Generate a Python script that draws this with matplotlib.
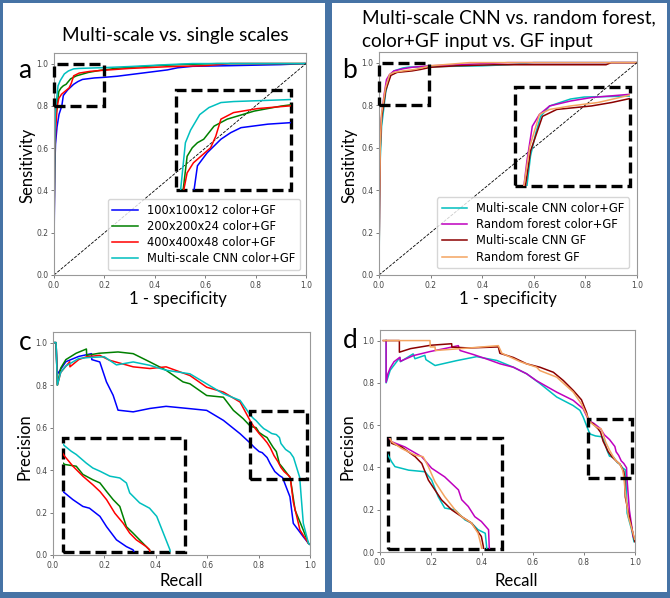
import matplotlib
matplotlib.use("Agg")
import matplotlib.pyplot as plt
from matplotlib.patches import Rectangle

W, H = 670, 598

# ---- panel a : ROC, multi-scale vs single scales
a_labels = ['100x100x12 color+GF', '200x200x24 color+GF',
            '400x400x48 color+GF', 'Multi-scale CNN color+GF']
a_colors = ['b', 'g', 'r', 'c']
a_fpr = [
    [0, 0.001, 0.003, 0.006, 0.012, 0.02, 0.031, 0.037, 0.054, 0.078, 0.095, 0.113, 0.16, 0.2, 0.25, 0.35, 0.45, 0.49, 0.55, 0.7, 0.9, 1.0],
    [0, 0.001, 0.003, 0.006, 0.012, 0.019, 0.028, 0.037, 0.048, 0.066, 0.089, 0.136, 0.183, 0.25, 0.4, 0.5, 0.65, 1.0],
    [0, 0.001, 0.003, 0.007, 0.013, 0.019, 0.03, 0.043, 0.06, 0.069, 0.078, 0.1, 0.142, 0.194, 0.3, 0.45, 0.6, 0.7, 1.0],
    [0, 0.001, 0.003, 0.005, 0.0076, 0.016, 0.025, 0.041, 0.057, 0.078, 0.1, 0.15, 0.2, 0.3, 0.45, 0.55, 1.0],
]
a_tpr = [
    [0, 0.25, 0.5, 0.62, 0.7, 0.76, 0.80, 0.849, 0.875, 0.902, 0.915, 0.925, 0.932, 0.935, 0.94, 0.955, 0.97, 0.98, 0.987, 0.99, 0.995, 1.0],
    [0, 0.35, 0.62, 0.74, 0.80, 0.868, 0.885, 0.895, 0.902, 0.928, 0.942, 0.958, 0.968, 0.978, 0.99, 0.995, 1.0, 1.0],
    [0, 0.3, 0.55, 0.7, 0.80, 0.835, 0.855, 0.868, 0.885, 0.908, 0.942, 0.955, 0.963, 0.968, 0.977, 0.985, 0.99, 1.0, 1.0],
    [0, 0.3, 0.6, 0.75, 0.80, 0.895, 0.92, 0.951, 0.965, 0.975, 0.977, 0.979, 0.981, 0.986, 0.995, 1.0, 1.0],
]

# ---- panel b : ROC, CNN vs random forest
b_labels = ['Multi-scale CNN color+GF', 'Random forest color+GF',
            'Multi-scale CNN GF', 'Random forest GF']
b_colors = ['c', 'm', 'darkred', 'sandybrown']
b_fpr = [
    [0, 0.002, 0.005, 0.01, 0.02, 0.026, 0.035, 0.043, 0.058, 0.093, 0.116, 0.197, 0.3, 0.4, 0.5, 0.6, 1.0],
    [0, 0.002, 0.005, 0.01, 0.02, 0.029, 0.041, 0.058, 0.093, 0.128, 0.197, 0.3, 0.4, 0.5, 1.0],
    [0, 0.002, 0.005, 0.01, 0.02, 0.026, 0.046, 0.07, 0.128, 0.162, 0.2, 0.3, 0.45, 0.88, 0.9, 1.0],
    [0, 0.002, 0.005, 0.01, 0.02, 0.025, 0.041, 0.058, 0.093, 0.139, 0.186, 0.197, 0.3, 0.35, 1.0],
]
b_tpr = [
    [0, 0.3, 0.55, 0.7, 0.80, 0.86, 0.907, 0.94, 0.961, 0.975, 0.979, 0.981, 0.983, 0.985, 0.99, 1.0, 1.0],
    [0, 0.4, 0.65, 0.75, 0.85, 0.92, 0.944, 0.961, 0.971, 0.978, 0.985, 0.99, 0.995, 1.0, 1.0],
    [0, 0.35, 0.6, 0.74, 0.82, 0.87, 0.94, 0.954, 0.961, 0.968, 0.978, 0.985, 0.99, 0.99, 1.0, 1.0],
    [0, 0.35, 0.62, 0.76, 0.84, 0.88, 0.944, 0.954, 0.961, 0.968, 0.981, 0.985, 0.995, 1.0, 1.0],
]

# ---- panel c : precision-recall, same models as a
c_recall = [
    [0, 0.012, 0.016, 0.05, 0.1, 0.15, 0.151, 0.182, 0.208, 0.234, 0.253, 0.312, 0.377, 0.44, 0.533, 0.598, 0.663, 0.728,
     0.769, 0.784, 0.802, 0.814, 0.833, 0.845, 0.863, 0.881, 0.893, 0.922, 0.935, 0.974, 0.994, 1.0],
    [0, 0.012, 0.017, 0.03, 0.05, 0.09, 0.13, 0.131, 0.18, 0.253, 0.312, 0.377, 0.44, 0.506, 0.533, 0.598, 0.663, 0.702, 0.74,
     0.769, 0.79, 0.802, 0.82, 0.833, 0.845, 0.857, 0.869, 0.881, 0.893, 0.905, 0.917, 0.923, 0.942, 0.974, 0.994, 1.0],
    [0, 0.012, 0.017, 0.03, 0.065, 0.066, 0.1, 0.13, 0.182, 0.22, 0.312, 0.377, 0.44, 0.533, 0.598, 0.663, 0.728,
     0.769, 0.784, 0.802, 0.82, 0.833, 0.845, 0.86, 0.875, 0.887, 0.899, 0.917, 0.923, 0.935, 0.961, 0.994, 1.0],
    [0, 0.012, 0.017, 0.03, 0.05, 0.1, 0.14, 0.2, 0.247, 0.312, 0.377, 0.44, 0.533, 0.598, 0.663, 0.728,
     0.769, 0.781, 0.79, 0.808, 0.82, 0.833, 0.851, 0.869, 0.881, 0.887, 0.905, 0.923, 0.936, 0.948, 0.96, 0.966, 0.974, 0.994, 1.0],
]
c_precision = [
    [1.0, 1.0, 0.85, 0.91, 0.935, 0.948, 0.92, 0.909, 0.815, 0.752, 0.682, 0.674, 0.69, 0.70, 0.689, 0.681, 0.634, 0.571,
     0.525, 0.506, 0.487, 0.482, 0.459, 0.43, 0.393, 0.374, 0.365, 0.274, 0.149, 0.086, 0.055, 0.05],
    [1.0, 1.0, 0.80, 0.88, 0.92, 0.95, 0.97, 0.94, 0.95, 0.956, 0.948, 0.909, 0.87, 0.815, 0.806, 0.751, 0.743, 0.681, 0.642,
     0.605, 0.6, 0.577, 0.562, 0.553, 0.529, 0.506, 0.487, 0.43, 0.412, 0.393, 0.374, 0.365, 0.211, 0.117, 0.055, 0.05],
    [1.0, 1.0, 0.80, 0.86, 0.91, 0.886, 0.92, 0.933, 0.94, 0.917, 0.886, 0.878, 0.886, 0.845, 0.79, 0.767, 0.72,
     0.628, 0.6, 0.572, 0.548, 0.529, 0.506, 0.468, 0.44, 0.412, 0.393, 0.374, 0.365, 0.25, 0.117, 0.055, 0.05],
    [1.0, 1.0, 0.80, 0.86, 0.89, 0.925, 0.93, 0.933, 0.895, 0.909, 0.893, 0.87, 0.853, 0.806, 0.759, 0.728,
     0.657, 0.642, 0.633, 0.609, 0.595, 0.586, 0.572, 0.567, 0.553, 0.525, 0.497, 0.482, 0.459, 0.412, 0.365, 0.27, 0.149, 0.055, 0.05],
]

# ---- panel d : precision-recall, same models as b
d_recall = [
    [0.024, 0.024, 0.04, 0.078, 0.08, 0.13, 0.137, 0.176, 0.18, 0.216, 0.3, 0.379, 0.458, 0.523, 0.575, 0.627, 0.693, 0.757, 0.784, 0.797,
     0.819, 0.824, 0.845, 0.87, 0.88, 0.89, 0.9, 0.916, 0.931, 0.941, 0.951, 0.962, 0.964, 0.969, 0.987, 0.996],
    [0.024, 0.024, 0.03, 0.04, 0.055, 0.078, 0.08, 0.131, 0.196, 0.261, 0.307, 0.314, 0.366, 0.418, 0.471, 0.523, 0.575, 0.614, 0.693, 0.758, 0.797,
     0.819, 0.839, 0.865, 0.88, 0.9, 0.921, 0.926, 0.936, 0.946, 0.956, 0.967, 0.968, 0.978, 0.993],
    [0.013, 0.076, 0.076, 0.12, 0.2, 0.281, 0.282, 0.35, 0.464, 0.47, 0.523, 0.575, 0.627, 0.68, 0.719, 0.758, 0.79, 0.81,
     0.819, 0.834, 0.855, 0.865, 0.875, 0.885, 0.895, 0.911, 0.926, 0.941, 0.956, 0.959, 0.962, 0.972, 0.999],
    [0.013, 0.196, 0.197, 0.216, 0.217, 0.35, 0.464, 0.478, 0.55, 0.614, 0.627, 0.693, 0.758, 0.79, 0.81,
     0.819, 0.834, 0.855, 0.867, 0.875, 0.885, 0.9, 0.916, 0.926, 0.941, 0.951, 0.956, 0.961, 0.974, 0.999],
]
d_precision = [
    [1.0, 0.80, 0.86, 0.92, 0.90, 0.937, 0.914, 0.93, 0.91, 0.882, 0.905, 0.924, 0.906, 0.874, 0.843, 0.797, 0.733, 0.693, 0.67, 0.638,
     0.57, 0.558, 0.549, 0.545, 0.524, 0.482, 0.453, 0.448, 0.423, 0.415, 0.398, 0.389, 0.356, 0.184, 0.104, 0.049],
    [1.0, 0.803, 0.84, 0.87, 0.90, 0.921, 0.902, 0.929, 0.948, 0.964, 0.976, 0.953, 0.934, 0.913, 0.89, 0.874, 0.843, 0.81, 0.756, 0.717, 0.677,
     0.621, 0.608, 0.583, 0.554, 0.532, 0.499, 0.474, 0.457, 0.431, 0.419, 0.398, 0.356, 0.198, 0.072],
    [1.0, 1.0, 0.945, 0.962, 0.978, 0.985, 0.969, 0.965, 0.97, 0.94, 0.92, 0.89, 0.874, 0.85, 0.811, 0.764, 0.72, 0.66,
     0.617, 0.608, 0.583, 0.566, 0.524, 0.499, 0.474, 0.448, 0.431, 0.415, 0.381, 0.356, 0.26, 0.198, 0.049],
    [1.0, 1.0, 0.97, 0.97, 0.953, 0.965, 0.976, 0.94, 0.9, 0.874, 0.858, 0.827, 0.756, 0.7, 0.65,
     0.621, 0.604, 0.587, 0.583, 0.558, 0.52, 0.482, 0.448, 0.431, 0.415, 0.389, 0.356, 0.292, 0.167, 0.06],
]

# zoom windows (x0, x1, y0, y1) and where the enlarged view sits (data coords)
zooms = {
    'a': ((0, 0.2, 0.8, 1.0), (0.485, 0.94, 0.40, 0.875)),
    'b': ((0, 0.193, 0.8, 1.0), (0.527, 0.974, 0.42, 0.887)),
    'c': ((0.766, 0.987, 0.36, 0.68), (0.039, 0.513, 0.016, 0.552)),
    'd': ((0.814, 0.987, 0.349, 0.631), (0.033, 0.477, 0.014, 0.54)),
}

FONT = 'Lato'
DASH = (0, (3.3, 1.5))


def fx(px):
    return px / W


def fy(py):
    return 1 - py / H


fig = plt.figure(figsize=(6.7, 5.98), dpi=100, facecolor='#4673a5')
for x0, x1 in [(3, 325), (332, 667)]:
    fig.patches.append(Rectangle((fx(x0), fy(592)), fx(x1) - fx(x0), fy(3) - fy(592),
                                 transform=fig.transFigure, facecolor='white',
                                 edgecolor='none', zorder=-10))


def panel(rect_px, key, xs, ys, colors, diag):
    l, t, r, b = rect_px
    ax = fig.add_axes([fx(l), fy(b), fx(r) - fx(l), fy(t) - fy(b)])
    lines = []
    for x, y, c in zip(xs, ys, colors):
        lines.append(ax.plot(x, y, color=c, lw=1.1)[0])
    if diag:
        ax.plot([0, 1], [0, 1], color='k', lw=0.6, ls='--')
    ax.set_xlim(0, 1)
    ax.set_ylim(0, 1.05)
    ax.set_xticks([0, 0.2, 0.4, 0.6, 0.8, 1.0])
    ax.set_yticks([0, 0.2, 0.4, 0.6, 0.8, 1.0])
    ax.tick_params(labelsize=5.5, labelcolor='#444', length=2.5, width=0.6,
                   color='#666', pad=1.5)
    for s in ax.spines.values():
        s.set_color('#999')
        s.set_linewidth(0.8)

    (zx0, zx1, zy0, zy1), (bx0, bx1, by0, by1) = zooms[key]
    ins = ax.inset_axes([bx0, by0, bx1 - bx0, by1 - by0], transform=ax.transData)
    for x, y, c in zip(xs, ys, colors):
        ins.plot(x, y, color=c, lw=1.1)
    ins.set_xlim(zx0, zx1)
    ins.set_ylim(zy0, zy1)
    ins.set_xticks([])
    ins.set_yticks([])
    ins.patch.set_alpha(0)
    for s in ins.spines.values():
        s.set_visible(False)
    for (x0, x1, y0, y1) in [(zx0, zx1, zy0, zy1), (bx0, bx1, by0, by1)]:
        ax.add_patch(Rectangle((x0, y0), x1 - x0, y1 - y0, fill=False,
                               edgecolor='k', lw=2.4, ls=DASH, zorder=5,
                               clip_on=False))
    return ax, lines


ax_a, la = panel((54, 53, 306, 275), 'a', a_fpr, a_tpr, a_colors, True)
ax_b, lb = panel((379, 52, 637, 275), 'b', b_fpr, b_tpr, b_colors, True)
ax_c, lc = panel((53, 332, 310, 555), 'c', c_recall, c_precision, a_colors, False)
ax_d, ld = panel((380, 330, 635, 552), 'd', d_recall, d_precision, b_colors, False)

ax_a.legend(la, a_labels, loc='lower right', bbox_to_anchor=(0.976, 0.0225),
            fontsize=8.3, labelspacing=0.28, handlelength=2.2, edgecolor='#ccc',
            borderaxespad=0)
ax_b.legend(lb, b_labels, loc='lower right', bbox_to_anchor=(0.97, 0.03),
            fontsize=8.3, labelspacing=0.28, handlelength=2.2, edgecolor='#ccc',
            borderaxespad=0)

fig.text(fx(175), fy(35), 'Multi-scale vs. single scales', family=FONT,
         fontsize=13.7, ha='center', va='center')
fig.text(fx(362), fy(18), 'Multi-scale CNN vs. random forest,', family=FONT,
         fontsize=13.7, ha='left', va='center')
fig.text(fx(362), fy(42), 'color+GF input vs. GF input', family=FONT,
         fontsize=13.7, ha='left', va='center')

for x, y, s in [(25, 70, 'a'), (350, 70, 'b'), (25, 343, 'c'), (350, 340, 'd')]:
    fig.text(fx(x), fy(y), s, family=FONT, fontsize=19, ha='center', va='center')

for x, y, s in [(178, 299, '1 - specificity'), (508, 299, '1 - specificity'),
                (181, 581, 'Recall'), (516, 581, 'Recall')]:
    fig.text(fx(x), fy(y), s, family=FONT, fontsize=12, ha='center', va='center')
for x, y, s in [(27, 165, 'Sensitivity'), (350, 165, 'Sensitivity'),
                (25, 447, 'Precision'), (348, 447, 'Precision')]:
    fig.text(fx(x), fy(y), s, family=FONT, fontsize=12, ha='center',
             va='center', rotation=90)

fig.savefig('out.png', dpi=100, facecolor=fig.get_facecolor())
